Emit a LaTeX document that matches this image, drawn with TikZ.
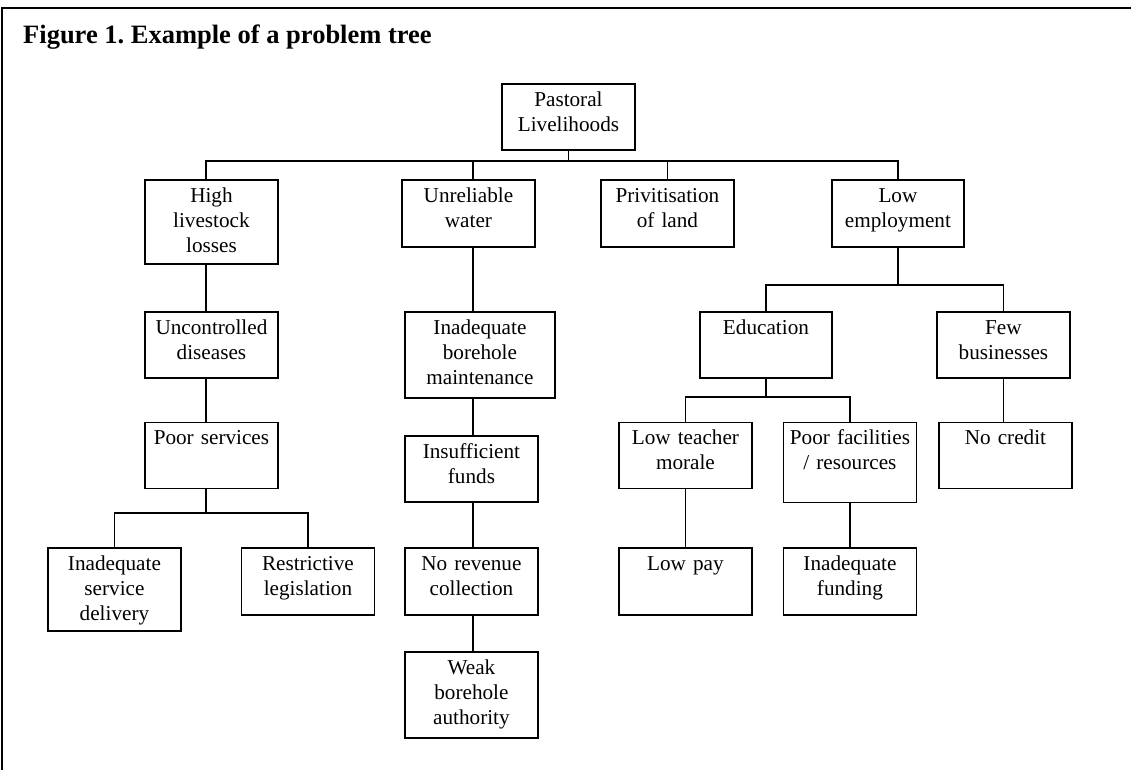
\documentclass[tikz,border=0pt]{standalone}
\usepackage{fontspec}
\setmainfont{Liberation Serif}
\frenchspacing
\newcommand\boxfont{\fontsize{21.2pt}{25pt}\selectfont}
\newcommand\titlefont{\bfseries\fontsize{26.5pt}{30pt}\selectfont}

\tikzset{
  frameline/.style={line width=2.6pt},
  conn/.style={line width=1.9pt},
  box/.style={draw, line width=1.9pt, anchor=north west, inner xsep=0pt, inner ysep=0pt,
    align=center, font=\boxfont, text height=22.5pt, text width=133pt},
  bw/.style={text width=#1pt},
  bh/.style={text depth=#1pt-22.5pt},
}

\begin{document}
\begin{tikzpicture}[x=1pt, y=-1pt]
\useasboundingbox (0,0) rectangle (1131,770);

% outer frame (open to the right and bottom)
\draw[frameline] (2,770) -- (2,8) -- (1131,8);

% title
\node[anchor=base west, inner sep=0pt, font=\titlefont] (title) at (23,43.3) {Figure 1. Example of a problem tree};

% boxes
\node[box, bh=66] (root) at (501,83) {Pastoral\\Livelihoods};

\node[box, bh=84] (hl) at (144,179) {High\\livestock\\losses};
\node[box, bh=67] (uw) at (401,179) {Unreliable\\water};
\node[box, bh=67] (pl) at (600,179) {Privitisation\\of land};
\node[box, bw=132, bh=67] (le) at (831,179) {Low\\employment};

\node[box, bh=66] (uc) at (144,311) {Uncontrolled\\diseases};
\node[box, bw=150, bh=86] (ibm) at (404,311) {Inadequate\\borehole\\maintenance};
\node[box, bw=132, bh=66] (ed) at (699,311) {Education};
\node[box, bh=66] (fb) at (936,311) {Few\\businesses};

\node[box, bh=66] (ps) at (144,421.5) {Poor services};
\node[box, bh=66] (if) at (404,435) {Insufficient\\funds};
\node[box, bh=66] (ltm) at (618,421.5) {Low teacher\\morale};
\node[box, bh=80] (pf) at (782.5,421.5) {Poor facilities\\/ resources};
\node[box, bh=66] (nc) at (938,421.5) {No credit};

\node[box, bh=83] (isd) at (47,546.7) {Inadequate\\service\\delivery};
\node[box, bh=67] (rl) at (240.5,546.7) {Restrictive\\legislation};
\node[box, bh=67] (nr) at (404,546.7) {No revenue\\collection};
\node[box, bh=67] (lp) at (618,546.7) {Low pay};
\node[box, bh=67] (ifd) at (782.5,546.7) {Inadequate\\funding};

\node[box, bh=86] (wba) at (404,651) {Weak\\borehole\\authority};

% connector columns and junction heights
\coordinate (colA) at (206,0);
\coordinate (colB) at (473,0);
\coordinate (jR) at (0,161);
\coordinate (jP) at (0,513.3);
\coordinate (jL) at (0,285.3);
\coordinate (jE) at (0,397);

% root level
\draw[conn] (root.south) -- (root.south |- jR) -| (hl.north -| colA);
\draw[conn] (root.south |- jR) -| (uw.north -| colB);
\draw[conn] (root.south |- jR) -| (pl.north);
\draw[conn] (root.south |- jR) -| (le.north);

% livestock branch
\draw[conn] (hl.south -| colA) -- (uc.north -| colA);
\draw[conn] (uc.south -| colA) -- (ps.north -| colA);
\draw[conn] (ps.south -| colA) -- (colA |- jP) -| (isd.north);
\draw[conn] (colA |- jP) -| (rl.north);

% water branch
\draw[conn] (uw.south -| colB) -- (ibm.north -| colB);
\draw[conn] (ibm.south -| colB) -- (if.north -| colB);
\draw[conn] (if.south -| colB) -- (nr.north -| colB);
\draw[conn] (nr.south -| colB) -- (wba.north -| colB);

% employment branch
\draw[conn] (le.south) -- (le.south |- jL) -| (ed.north);
\draw[conn] (le.south |- jL) -| (fb.north);
\draw[conn] (ed.south) -- (ed.south |- jE) -| (ltm.north);
\draw[conn] (ed.south |- jE) -| (pf.north);
\draw[conn] (fb.south) -- (fb.south |- nc.north);
\draw[conn] (ltm.south) -- (lp.north);
\draw[conn] (pf.south) -- (ifd.north);
\end{tikzpicture}
\end{document}
